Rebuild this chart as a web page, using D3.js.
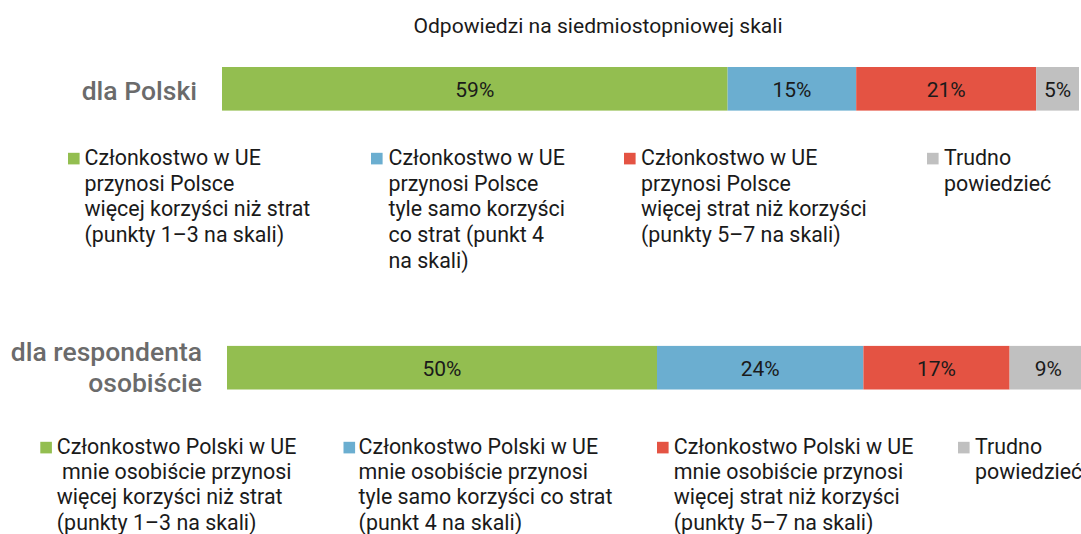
<!DOCTYPE html>
<html>
<head>
<meta charset="utf-8">
<script src="https://cdn.jsdelivr.net/npm/d3@7/dist/d3.min.js"></script>
<style>
  html, body { margin: 0; padding: 0; background: #fff; overflow: hidden; }
  svg { display: block; font-family: Roboto, "Noto Sans", sans-serif; }
</style>
</head>
<body>
<svg id="chart" width="1081" height="534"></svg>
<script>
// ---- data ----
const title = "Odpowiedzi na siedmiostopniowej skali";
const categories = ["dla Polski", "dla respondenta osobiście"];
const categoryLines = [["dla Polski"], ["dla respondenta", "osobiście"]];
const seriesKeys = ["korzysci", "tyleSamo", "straty", "trudno"];
const valuesPolska = [59, 15, 21, 5];
const valuesOsobiscie = [50, 24, 17, 9];
const seriesColors = ["#93be50", "#6baed0", "#e45343", "#c0c0c0"];
const legendPolska = [
  ["Członkostwo w UE", "przynosi Polsce", "więcej korzyści niż strat", "(punkty 1–3 na skali)"],
  ["Członkostwo w UE", "przynosi Polsce", "tyle samo korzyści", "co strat (punkt 4", "na skali)"],
  ["Członkostwo w UE", "przynosi Polsce", "więcej strat niż korzyści", "(punkty 5–7 na skali)"],
  ["Trudno", "powiedzieć"]
];
const legendOsobiscie = [
  ["Członkostwo Polski w UE", "\u00a0mnie osobiście przynosi", "więcej korzyści niż strat", "(punkty 1–3 na skali)"],
  ["Członkostwo Polski w UE", "mnie osobiście przynosi", "tyle samo korzyści co strat", "(punkt 4 na skali)"],
  ["Członkostwo Polski w UE", "mnie osobiście przynosi", "więcej strat niż korzyści", "(punkty 5–7 na skali)"],
  ["Trudno", "powiedzieć"]
];

// ---- layout ----
const svg = d3.select("#chart");
const fs = 21.4;

svg.append("text")
  .attr("x", 598).attr("y", 32.5)
  .attr("text-anchor", "middle")
  .attr("font-size", 21.1)
  .attr("fill", "#1a1a1a")
  .text(title);

const yCenter = d3.scalePoint().domain(categories).range([88.8, 367.7]);
const barH = 43.6;
const xScales = [
  d3.scaleLinear().domain([0, 100]).range([222, 1079]),
  d3.scaleLinear().domain([0, 100]).range([227, 1087])
];
const allValues = [valuesPolska, valuesOsobiscie];
const labelRight = [197, 202];
const labelBase = [[100], [361, 392]];

categories.forEach((cat, ci) => {
  const x = xScales[ci];
  const vals = allValues[ci];
  let cum = 0;
  const segs = vals.map((v, i) => { const s = { key: seriesKeys[i], v, x0: cum, x1: cum + v, color: seriesColors[i] }; cum += v; return s; });
  const g = svg.append("g");
  const yc = yCenter(cat);
  g.selectAll("rect").data(segs).join("rect")
    .attr("x", d => x(d.x0))
    .attr("width", d => x(d.x1) - x(d.x0))
    .attr("y", yc - barH / 2)
    .attr("height", barH)
    .attr("fill", d => d.color);
  g.selectAll("text.val").data(segs).join("text")
    .attr("class", "val")
    .attr("x", d => (x(d.x0) + x(d.x1)) / 2)
    .attr("y", yc + 7.8)
    .attr("text-anchor", "middle")
    .attr("font-size", 21)
    .attr("fill", "#1a1a1a")
    .text(d => d.v + "%");
  const lab = svg.append("text")
    .attr("text-anchor", "end")
    .attr("font-size", 26.5)
    .attr("font-weight", 500)
    .attr("fill", "#6b6b6b");
  categoryLines[ci].forEach((ln, li) => {
    lab.append("tspan").attr("x", labelRight[ci]).attr("y", labelBase[ci][li]).text(ln);
  });
});

// ---- legends ----
function legend(items, squareXs, textXs, baseY, lineH) {
  const g = svg.append("g");
  items.forEach((lines, i) => {
    g.append("rect")
      .attr("x", squareXs[i]).attr("y", baseY - 12.2)
      .attr("width", 11.6).attr("height", 11.6)
      .attr("fill", seriesColors[i]);
    const t = g.append("text").attr("font-size", fs).attr("fill", "#1a1a1a");
    lines.forEach((ln, li) => {
      t.append("tspan").attr("x", textXs[i]).attr("y", baseY + li * lineH).text(ln);
    });
  });
}
legend(legendPolska, [68, 371, 624, 927], [84.5, 388.5, 641, 944], 165, 25.7);
legend(legendOsobiscie, [40.3, 343.5, 657, 958], [56.8, 358.6, 673.8, 975], 454, 25.2);
</script>
</body>
</html>
